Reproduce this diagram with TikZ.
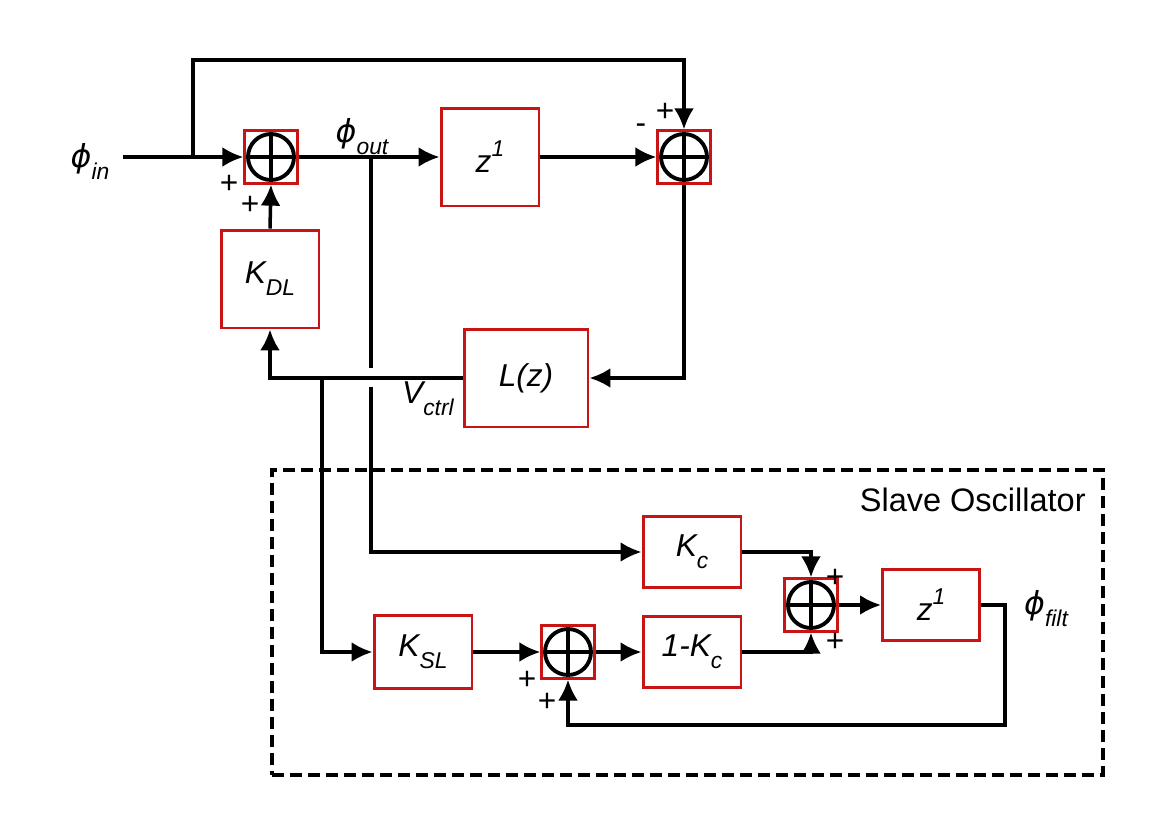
\documentclass[tikz,border=0pt]{standalone}
\usepackage{fontspec}
\setmainfont{Liberation Sans}
\newfontfamily\dejavu{DejaVu Sans}
\usetikzlibrary{arrows.meta}
\definecolor{boxred}{RGB}{200,20,20}
\newcommand\sbs[1]{\raisebox{-0.38em}{\fontsize{13}{15}\selectfont\itshape #1}}
\newcommand\sps[1]{\raisebox{0.5em}{\fontsize{13}{15}\selectfont\itshape #1}}
\newcommand\phisym{{\dejavu\itshape ϕ}}
\begin{document}
\begin{tikzpicture}[x=0.02cm,y=-0.02cm,
  wire/.style={line width=2pt},
  arr/.style={wire,-{Latex[length=0.42cm,width=0.4cm]}},
  blk/.style={draw=boxred,line width=1.7pt,inner sep=0pt,fill=white,
    font=\fontsize{18}{21}\selectfont\itshape},
  sumj/.style={draw=boxred,line width=1.3pt,minimum size=1.06cm,inner sep=0pt,fill=white,
    path picture={
      \draw[black,line width=2.2pt] (path picture bounding box.center) circle[radius=0.46cm];
      \draw[black,line width=2pt] ([xshift=-0.42cm]path picture bounding box.center) -- ([xshift=0.42cm]path picture bounding box.center);
      \draw[black,line width=2pt] ([yshift=-0.42cm]path picture bounding box.center) -- ([yshift=0.42cm]path picture bounding box.center);
    }},
  pm/.style={inner sep=0pt,font=\fontsize{18}{21}\selectfont},
  lbl/.style={inner sep=0pt,font=\fontsize{18}{21}\selectfont\itshape},
  group/.style={draw,line width=2pt,dash pattern=on 0.24cm off 0.12cm,inner sep=0pt},
]
\useasboundingbox (0,0) rectangle (1173,825);

% group box
\node[group,minimum width=16.62cm,minimum height=6.1cm] (slave) at (687.5,622.5) {};
\node[inner sep=0pt,font=\fontsize{18.5}{21}\selectfont,anchor=east] (slavelbl) at (1086,500) {Slave Oscillator};

% junctions
\node[sumj] (s1) at (271,157) {};
\node[sumj] (s2) at (684,157) {};
\node[sumj] (s3) at (811,605) {};
\node[sumj] (s4) at (568,652) {};

% blocks
\node[blk,minimum width=1.96cm,minimum height=1.96cm] (kdl) at (270,279) {K\sbs{DL}};
\node[blk,minimum width=1.96cm,minimum height=1.96cm] (zinv) at (490,157) {z\sps{1}};
\node[blk,minimum width=2.48cm,minimum height=1.96cm] (lz) at (526,378) {L(z)};
\node[blk,minimum width=1.96cm,minimum height=1.42cm] (kc) at (692,552) {K\sbs{c}};
\node[blk,minimum width=1.96cm,minimum height=1.42cm] (omk) at (692,652) {1-K\sbs{c}};
\node[blk,minimum width=1.94cm,minimum height=1.42cm] (z2) at (931,605) {z\sps{1}};
\node[blk,minimum width=1.96cm,minimum height=1.46cm] (ksl) at (423,652) {K\sbs{SL}};

% signal labels
\node[lbl] (phin) at (90,161) {\phisym\sbs{in}};
\node[lbl] (phout) at (362,137) {\phisym\sbs{out}};
\node[lbl] (vctrl) at (428,399) {V\sbs{ctrl}};
\node[lbl] (phfilt) at (1046,609) {\phisym\sbs{filt}};

% signs
\node[pm] (p1a) at (229,184) {+};
\node[pm] (p1b) at (250,205) {+};
\node[pm] (p2a) at (665,112) {+};
\node[pm] (p2b) at (641,129) {-};
\node[pm] (p3a) at (835,578) {+};
\node[pm] (p3b) at (835,642) {+};
\node[pm] (p4a) at (527,680) {+};
\node[pm] (p4b) at (547,702) {+};

% coordinates
\coordinate (in) at (123,157);
\coordinate (b1) at (193,157);
\coordinate (t1) at (193,60);
\coordinate (b2) at (371,157);
\coordinate (h1) at (371,368);
\coordinate (h2) at (371,387);
\coordinate (b3) at (322,378);
\coordinate (f1) at (1005,725);

% connectors
\draw[arr] (in) -- (s1.west);
\draw[arr] (b1) -- (t1) -| (s2.north);
\draw[arr] (s1.east) -- (zinv.west);
\draw[arr] (zinv.east) -- (s2.west);
\draw[arr] (s2.south) |- (lz.east);
\draw[arr] (lz.west) -| (kdl.south);
\draw[arr] (kdl.north) -- (s1.south);
\draw[wire] (b2) -- (h1);
\draw[arr] (h2) |- (kc.west);
\draw[arr] (b3) |- (ksl.west);
\draw[arr] (ksl.east) -- (s4.west);
\draw[arr] (s4.east) -- (omk.west);
\draw[arr] (kc.east) -| (s3.north);
\draw[arr] (omk.east) -| (s3.south);
\draw[arr] (s3.east) -- (z2.west);
\draw[arr] (z2.east) -| (f1) -| (s4.south);
\end{tikzpicture}
\end{document}
